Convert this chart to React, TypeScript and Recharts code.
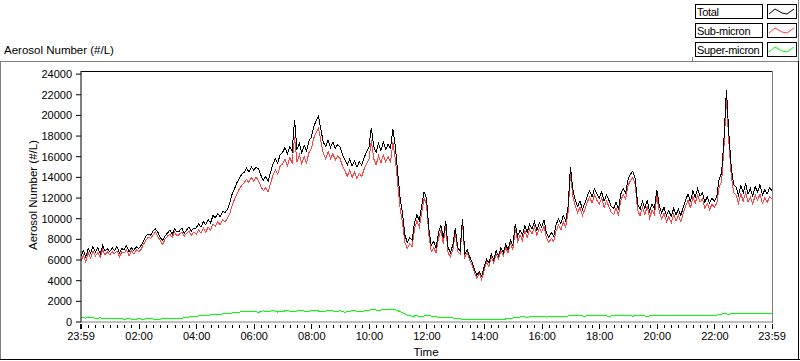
import React from 'react';
import { LineChart, Line, XAxis, YAxis } from 'recharts';

// minutes after 23:59, sampled every 5 min (total, sub-micron) and every 10 min (super-micron)
const totalValues = [
  6400, 6900, 6300, 7100, 6700, 7300, 6800, 7200, 6600, 7400, 6900, 7100,
  6800, 7200, 6900, 7300, 6700, 7100, 7000, 7400, 6800, 7200, 6900, 7300,
  7100, 7400, 7800, 8300, 8500, 8400, 8800, 9000, 8700, 8200, 7900, 8300,
  8600, 8900, 8500, 9000, 8700, 8800, 9100, 8600, 8900, 9200, 8800, 9100,
  9100, 9500, 9200, 9700, 9400, 9900, 9600, 10300, 10100, 10500, 10200, 10700,
  10600, 10900, 11500, 12400, 12900, 13500, 13900, 14300, 14500, 14900, 14500, 15000,
  14700, 15000, 14800, 14200, 13700, 14100, 13600, 14500, 15300, 15800, 15400, 16200,
  16400, 16900, 16300, 17000, 16500, 19600, 16700, 17300, 16400, 17100, 16600, 17500,
  17900, 18900, 19500, 19900, 18600, 17400, 17000, 17600, 16900, 17400, 16800, 17200,
  16900, 16200, 15700, 15200, 15800, 15100, 15600, 15000, 15500, 15200, 15900, 16500,
  16900, 18800, 17000, 16400, 17300, 16600, 17400, 16700, 17200, 16800, 18700, 17000,
  14500, 12000, 10500, 8400, 7700, 8200, 7900, 9600, 10400, 9800, 11200, 12600,
  12000, 9000, 7400, 7800, 7200, 8600, 9400, 8100, 9800, 7200, 6700, 7500,
  9100, 7200, 6900, 10000, 6600, 7000, 6300, 5800, 5100, 4500, 4900, 4400,
  5300, 6100, 5700, 6600, 6000, 6900, 6400, 7200, 6700, 7500, 7000, 7900,
  7400, 9500, 8300, 8900, 8400, 9300, 8700, 9500, 9000, 9700, 8900, 9600,
  9200, 9900, 8600, 8200, 8700, 8300, 9400, 10000, 9500, 10300, 9800, 11200,
  15000, 12800, 11800, 11200, 11700, 10900, 11500, 12200, 12700, 12100, 12900, 12400,
  12000, 12600, 11700, 12300, 11800, 11200, 11000, 11600, 10900, 12400, 12900, 12500,
  13800, 14300, 14600, 13900, 11400, 10900, 11700, 11000, 11800, 10700, 11400, 11000,
  12800, 11300, 10600, 11100, 10300, 10800, 10200, 11000, 10400, 10900, 10300, 11100,
  11800, 12400, 11600, 12700, 12100, 12900, 12200, 12500, 11600, 12100, 11500, 12000,
  11700, 12200, 13900, 14400, 17800, 22500, 18300, 15000, 13300, 13100, 12300, 13200,
  12500, 13400, 12400, 12900, 12200, 13100, 12600, 13300, 12300, 12800, 12400, 13000,
  12700,
];

const subMicronValues = [
  5900, 6500, 5800, 6700, 6200, 6900, 6400, 6700, 6300, 7000, 6500, 6800,
  6500, 6800, 6600, 6900, 6300, 6800, 6700, 7000, 6400, 6900, 6600, 7000,
  6800, 7000, 7500, 7900, 8200, 8100, 8400, 8700, 8300, 7900, 7500, 8000,
  8300, 8500, 8200, 8700, 8300, 8500, 8700, 8300, 8600, 8800, 8400, 8700,
  8500, 8900, 8600, 9100, 8700, 9200, 8900, 9500, 9300, 9700, 9400, 9900,
  9700, 10000, 10500, 11300, 11900, 12400, 12900, 13200, 13500, 13800, 13500, 14000,
  13600, 14000, 13700, 13100, 12700, 13000, 12600, 13400, 14200, 14700, 14300, 15100,
  15300, 15800, 15100, 15900, 15400, 17900, 15500, 16200, 15300, 16000, 15400, 16400,
  16800, 17800, 18300, 18800, 17500, 16300, 15800, 16500, 15800, 16300, 15700, 16100,
  15800, 15100, 14600, 14100, 14700, 14000, 14500, 13900, 14400, 14100, 14800, 15300,
  15700, 17600, 15800, 15200, 16100, 15400, 16200, 15500, 16000, 15500, 17400, 15800,
  13400, 11000, 9600, 7700, 7100, 7600, 7300, 9000, 9800, 9200, 10600, 12000,
  11400, 8400, 6800, 7200, 6700, 8100, 8900, 7600, 9300, 6700, 6300, 7000,
  8700, 6800, 6600, 9600, 6300, 6700, 6000, 5500, 4800, 4200, 4700, 4100,
  5000, 5800, 5400, 6300, 5700, 6600, 6100, 6900, 6400, 7200, 6700, 7600,
  7000, 9000, 7800, 8400, 7900, 8800, 8200, 9000, 8500, 9200, 8400, 9100,
  8700, 9300, 8100, 7700, 8100, 7800, 8800, 9400, 8900, 9700, 9200, 10600,
  14300, 12200, 11200, 10600, 11100, 10300, 10900, 11600, 12100, 11500, 12300, 11800,
  11400, 12000, 11100, 11700, 11200, 10600, 10400, 11000, 10300, 11800, 12300, 11900,
  13200, 13700, 14000, 13300, 10800, 10300, 11100, 10400, 11200, 10100, 10800, 10400,
  12200, 10700, 10000, 10500, 9700, 10200, 9600, 10400, 9800, 10300, 9700, 10500,
  11200, 11800, 11000, 12100, 11500, 12300, 11600, 11900, 11000, 11500, 10900, 11400,
  11100, 11500, 13100, 13600, 17000, 21700, 17500, 14200, 12500, 12300, 11500, 12400,
  11700, 12500, 11600, 12100, 11400, 12300, 11800, 12400, 11500, 12000, 11600, 12100,
  11900,
];

const superMicronValues = [
  420, 380, 450, 360, 400, 330, 310, 290, 320, 280, 300, 270,
  300, 280, 310, 290, 270, 300, 320, 290, 330, 360, 450, 520,
  560, 620, 600, 680, 720, 760, 800, 850, 900, 960, 1000, 980,
  1050, 940, 1080, 1000, 1120, 960, 1040, 1100, 980, 1060, 1140, 1000,
  1080, 1150, 980, 1060, 1120, 1000, 1090, 950, 1040, 1110, 990, 1070,
  1150, 1200, 1100, 1220, 1180, 1240, 1100, 900, 650, 560, 600, 540,
  620, 580, 500, 430, 410, 450, 330, 300, 260, 280, 240, 220,
  250, 230, 260, 240, 280, 300, 380, 460, 500, 470, 520, 490,
  510, 480, 540, 500, 530, 560, 600, 580, 620, 560, 640, 600,
  580, 630, 560, 610, 650, 590, 620, 570, 640, 600, 560, 620,
  590, 640, 600, 660, 620, 580, 650, 610, 670, 630, 600, 660,
  640, 720, 800, 760, 840, 790, 820, 860, 780, 830, 800, 850,
  820,
];

const yTicks = [0, 2000, 4000, 6000, 8000, 10000, 12000, 14000, 16000, 18000, 20000, 22000, 24000];
const xMajorMinutes = [0, 121, 241, 361, 481, 601, 721, 841, 961, 1081, 1201, 1321, 1440];
const xMajorLabels = ['23:59', '02:00', '04:00', '06:00', '08:00', '10:00', '12:00', '14:00', '16:00', '18:00', '20:00', '22:00', '23:59'];

const legendItems = [
  { name: 'Total', color: '#000000' },
  { name: 'Sub-micron', color: '#ff4040' },
  { name: 'Super-micron', color: '#00ff00' },
];

const FONT = '"Liberation Sans", Arial, sans-serif';

// minor ticks every 15 min (from 00:00), majors every 2 h
const minorMinutes: number[] = [];
for (let k = 1; k < 96; k++) {
  if ((15 * k) % 120 !== 0) minorMinutes.push(1 + 15 * k);
}
const xTicks = [...xMajorMinutes, ...minorMinutes].sort((a, b) => a - b);

const totalData = totalValues.map((v, i) => ({ t: i * 5, v }));
const subData = subMicronValues.map((v, i) => ({ t: i * 5, v }));
const superData = superMicronValues.map((v, i) => ({ t: i * 10, v }));

const XTick = (props: any) => {
  const { x, y, payload } = props;
  const idx = xMajorMinutes.indexOf(payload.value);
  if (idx < 0) {
    return <line x1={x} x2={x} y1={y + 3} y2={y + 6} stroke="#000" shapeRendering="crispEdges" />;
  }
  return (
    <g>
      <line x1={x} x2={x} y1={y + 2} y2={y + 7} stroke="#000" strokeWidth={idx === 0 ? 2 : 1} shapeRendering="crispEdges" />
      <text x={x} y={y + 18} textAnchor="middle" fontSize={11} fontFamily={FONT} fill="#000">
        {xMajorLabels[idx]}
      </text>
    </g>
  );
};

export default function App() {
  return (
    <div style={{ position: 'absolute', left: 0, top: 0, width: 800, height: 361, background: '#fff' }}>
      <LineChart width={800} height={361} data={totalData} margin={{ top: 71, right: 28, bottom: 9, left: 21 }}>
        <XAxis
          dataKey="t"
          type="number"
          domain={[0, 1440]}
          ticks={xTicks}
          interval={0}
          tickSize={0}
          tickMargin={0}
          tickLine={false}
          tick={(p: any) => <XTick {...p} />}
          axisLine={{ stroke: '#808080' }}
          height={30}
        />
        <YAxis
          type="number"
          domain={[0, 24300]}
          ticks={yTicks}
          interval={0}
          width={60}
          tickSize={5}
          tickMargin={4}
          tickLine={{ stroke: '#000' }}
          axisLine={{ stroke: '#000' }}
          tick={{ fill: '#000', fontSize: 11, fontFamily: FONT }}
        />
        <Line data={superData} dataKey="v" type="linear" stroke="#00ff00" strokeWidth={1} dot={false} isAnimationActive={false} shapeRendering="crispEdges" />
        <Line data={subData} dataKey="v" type="linear" stroke="#ff4040" strokeWidth={1} dot={false} isAnimationActive={false} shapeRendering="crispEdges" />
        <Line data={totalData} dataKey="v" type="linear" stroke="#000000" strokeWidth={1} dot={false} isAnimationActive={false} shapeRendering="crispEdges" />
      </LineChart>
      <svg width={800} height={361} style={{ position: 'absolute', left: 0, top: 0, pointerEvents: 'none' }}>
        {/* outer panel frame */}
        <g shapeRendering="crispEdges">
          <line x1={0} x2={799} y1={61.5} y2={61.5} stroke="#808080" />
          <line x1={0.5} x2={0.5} y1={61} y2={360} stroke="#808080" />
          <line x1={0} x2={800} y1={359.5} y2={359.5} stroke="#000" />
          <line x1={798.5} x2={798.5} y1={61} y2={360} stroke="#000" />
          <line x1={798.5} x2={798.5} y1={0} y2={61} stroke="#808080" />
          <line x1={692.5} x2={692.5} y1={57} y2={61} stroke="#808080" />
          {/* plot frame */}
          <line x1={81} x2={772} y1={71.5} y2={71.5} stroke="#000" />
          <line x1={772.5} x2={772.5} y1={71} y2={323} stroke="#808080" />
        </g>
        <text x={4} y={54} fontSize={11.5} fontFamily={FONT} fill="#000">Aerosol Number (#/L)</text>
        <text x={37} y={195} fontSize={11.5} fontFamily={FONT} fill="#000" textAnchor="middle" transform="rotate(-90 37 195)">
          Aerosol Number (#/L)
        </text>
        <text x={426} y={356} fontSize={11.5} fontFamily={FONT} fill="#000" textAnchor="middle">Time</text>
        {legendItems.map((item, i) => {
          const y0 = 4 + i * 19;
          return (
            <g key={item.name}>
              <rect x={695.5} y={y0 + 0.5} width={67} height={14} fill="#fff" stroke="#000" shapeRendering="crispEdges" />
              <text x={697} y={y0 + 12} fontSize={11} letterSpacing={-0.3} fontFamily={FONT} fill="#000">{item.name}</text>
              <rect x={767.5} y={y0 + 0.5} width={29} height={14} fill="#fff" stroke="#000" shapeRendering="crispEdges" />
              <polyline
                points={`769,${y0 + 10} 775,${y0 + 5} 782,${y0 + 9} 787,${y0 + 10} 794,${y0 + 5}`}
                fill="none"
                stroke={item.color}
                strokeWidth={1}
              />
            </g>
          );
        })}
      </svg>
    </div>
  );
}
